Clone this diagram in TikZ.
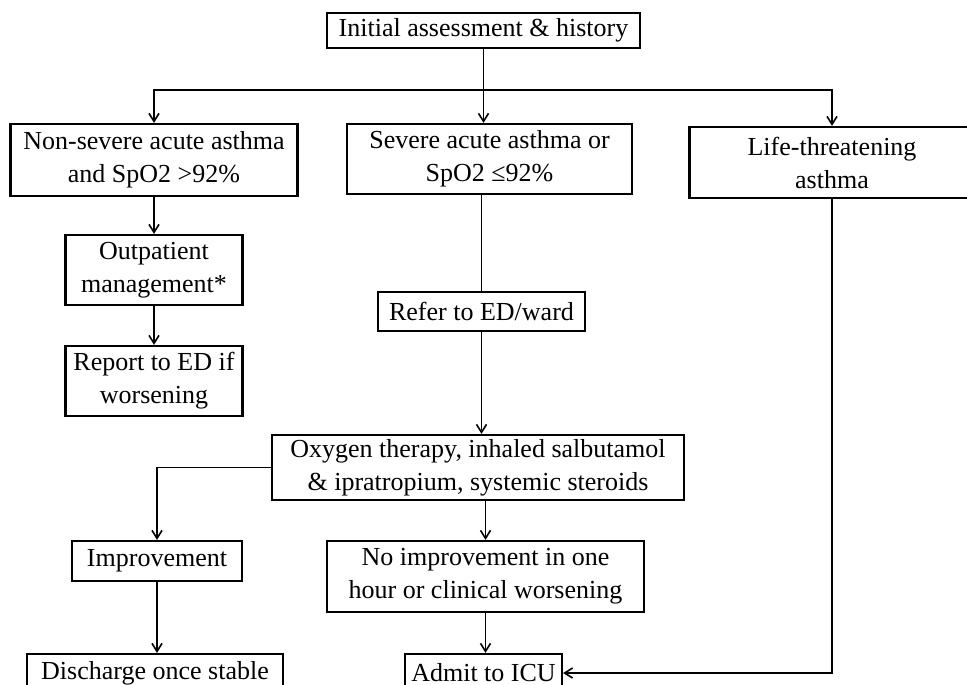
\documentclass[tikz,border=0pt]{standalone}
\usepackage{fontspec}
\setmainfont{Liberation Serif}
\usetikzlibrary{arrows.meta}

\tikzset{
  box/.style={draw, line width=2.2pt, align=center, inner sep=0pt,
    font=\fontsize{26}{33}\selectfont},
  link/.style={line width=1.8pt, -{Straight Barb[length=8pt,width=10pt,line width=1.6pt]}}
}

\begin{document}
\begin{tikzpicture}[x=1pt,y=-1pt]
  \useasboundingbox (0,0) rectangle (967,685);
  \path (483.5,30.5) node[box, minimum width=313, minimum height=35] (init) {Initial assessment \& history};
  \path (154,160) node[box, minimum width=287, minimum height=72] (nonsev) {Non-severe acute asthma\\and SpO2 >92\%};
  \path (489.5,159) node[box, minimum width=285, minimum height=70] (sev) {Severe acute asthma or\\SpO2 ≤92\%};
  \path (832,162.5) node[box, minimum width=285, minimum height=71] (life) {Life-threatening\\asthma};
  \path (154,270) node[box, minimum width=177, minimum height=70] (outpt) {Outpatient\\management*};
  \path (154,381) node[box, minimum width=177, minimum height=70] (report) {Report to ED if\\worsening};
  \path (481.5,311.5) node[box, minimum width=207, minimum height=39] (refer) {Refer to ED/ward};
  \path (478,467.5) node[box, minimum width=412, minimum height=65] (oxy) {Oxygen therapy, inhaled salbutamol\\\& ipratropium, systemic steroids};
  \path (157,561) node[box, minimum width=170, minimum height=40] (impr) {Improvement};
  \path (485.5,576.5) node[box, minimum width=317, minimum height=71] (noimpr) {No improvement in one\\hour or clinical worsening};
  \path (155,673) node[box, minimum width=256, minimum height=38] (disch) {Discharge once stable};
  \path (483.5,673) node[box, minimum width=157, minimum height=38] (icu) {Admit to ICU};
  % branches from the top
  \draw[line width=1.8pt] (init.south) -- ++(0,41) coordinate (split);
  \draw[link] (split) -| (nonsev.north);
  \draw[link] (split) -- (split |- sev.north);
  \draw[link] (split) -| (life.north);
  \draw[link] (nonsev.south) -- (outpt.north);
  \draw[link] (outpt.south) -- (report.north);
  \draw[line width=1.8pt] (sev.south -| refer.north) -- (refer.north);
  \draw[link] (refer.south) -- (refer.south |- oxy.north);
  \draw[link] (oxy.west) -| (impr.north);
  \draw[link] (noimpr.north |- oxy.south) -- (noimpr.north);
  \draw[link] (impr.south) -- (impr.south |- disch.north);
  \draw[link] (noimpr.south) -- (noimpr.south |- icu.north);
  \draw[link] (life.south) |- (icu.east);
\end{tikzpicture}
\end{document}
